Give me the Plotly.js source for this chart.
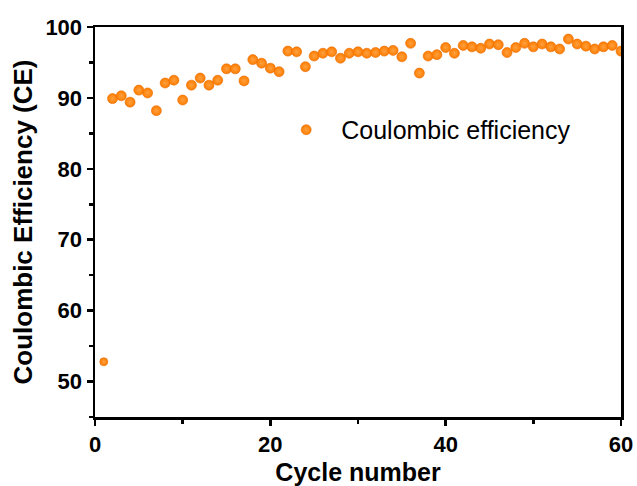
<!DOCTYPE html>
<html>
<head>
<meta charset="utf-8">
<script src="https://cdn.plot.ly/plotly-3.0.1.min.js"></script>
<style>html,body{margin:0;padding:0;background:#fff;}#chart{width:637px;height:486px;}</style>
</head>
<body>
<div id="chart"></div>
<script>
const cycles = [1,2,3,4,5,6,7,8,9,10,11,12,13,14,15,16,17,18,19,20,
  21,22,23,24,25,26,27,28,29,30,31,32,33,34,35,36,37,38,39,40,
  41,42,43,44,45,46,47,48,49,50,51,52,53,54,55,56,57,58,59,60];
const coulombicEfficiency = [52.8,89.9,90.3,89.4,91.1,90.7,88.2,92.1,92.5,89.7,
  91.8,92.8,91.8,92.5,94.1,94.1,92.4,95.4,94.9,94.2,
  93.7,96.6,96.5,94.4,95.9,96.3,96.5,95.6,96.3,96.5,
  96.3,96.4,96.6,96.7,95.8,97.7,93.5,95.9,96.1,97.1,
  96.3,97.4,97.2,97.0,97.6,97.5,96.4,97.1,97.7,97.2,
  97.6,97.2,96.9,98.3,97.6,97.3,96.9,97.2,97.4,96.6];
const seriesName = 'Coulombic efficiency';
const xTitle = 'Cycle number';
const yTitle = 'Coulombic Efficiency (CE)';

const tickFont = {family: 'Liberation Sans, Arial, sans-serif', size: 22, color: '#000', weight: 'bold'};
const titleFont = {family: 'Liberation Sans, Arial, sans-serif', size: 25, color: '#000', weight: 'bold'};

const sizes = cycles.map((c, i) => i === 0 ? 8 : 10);

const trace = {
  x: cycles, y: coulombicEfficiency, name: seriesName,
  type: 'scatter', mode: 'markers', cliponaxis: true,
  marker: {color: '#ff7d00', size: sizes, opacity: 1,
    gradient: {type: 'radial', color: '#ffa040'},
    line: {color: '#e86a00', width: 0.6}}
};

const layout = {
  width: 637, height: 486,
  margin: {l: 95, r: 16, t: 27, b: 69},
  paper_bgcolor: '#fff', plot_bgcolor: '#fff',
  showlegend: true,
  legend: {x: 0.335, y: 0.736, xanchor: 'left', yanchor: 'middle',
    bgcolor: 'rgba(0,0,0,0)', itemwidth: 60,
    font: {family: 'Liberation Sans, Arial, sans-serif', size: 25, color: '#000'}},
  xaxis: {range: [0, 60], dtick: 20, tick0: 0, showgrid: false, zeroline: false,
    showline: true, linecolor: '#000', linewidth: 2.5, mirror: true,
    ticks: 'outside', ticklen: 6, tickwidth: 2.5, tickcolor: '#000',
    minor: {dtick: 10, ticks: 'outside', ticklen: 4, tickwidth: 2.5, tickcolor: '#000', showgrid: false},
    tickfont: tickFont,
    title: {text: xTitle, font: titleFont, standoff: 11}},
  yaxis: {range: [45, 100], dtick: 10, tick0: 50, showgrid: false, zeroline: false,
    showline: true, linecolor: '#000', linewidth: 2.5, mirror: true,
    ticks: 'outside', ticklen: 6, tickwidth: 2.5, tickcolor: '#000',
    minor: {dtick: 5, tick0: 45, ticks: 'outside', ticklen: 4, tickwidth: 2.5, tickcolor: '#000', showgrid: false},
    tickfont: tickFont,
    title: {text: yTitle, font: {family: titleFont.family, size: 26, color: '#000', weight: 'bold'}, standoff: 6}}
};

Plotly.newPlot('chart', [trace], layout, {displayModeBar: false, staticPlot: true});
</script>
</body>
</html>
